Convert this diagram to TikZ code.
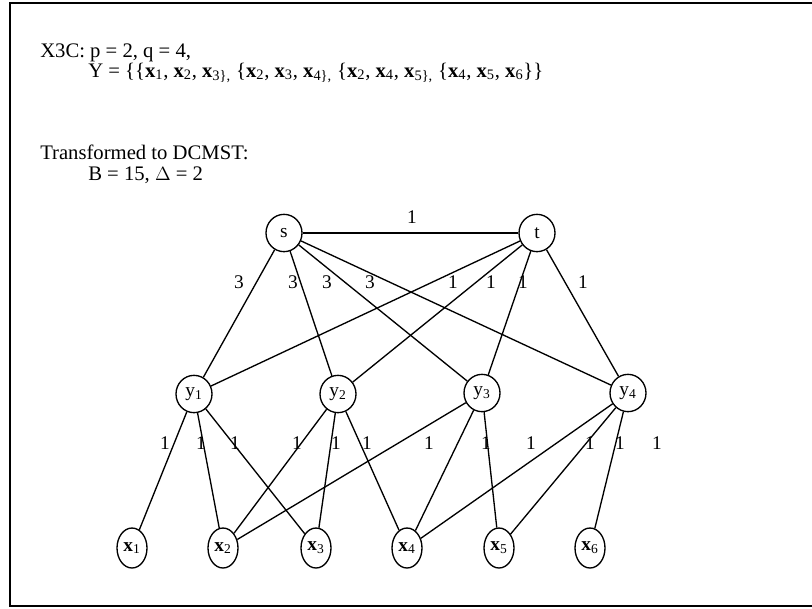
\documentclass[tikz,border=0pt]{standalone}
\usepackage{fontspec}
\setmainfont{Liberation Serif}
\usetikzlibrary{shapes.geometric}
\begin{document}
\begin{tikzpicture}[x=0.75pt,y=-0.75pt,
  font=\fontsize{14.5}{17}\selectfont,
  vtx/.style={draw, ellipse, line width=1pt, inner sep=0pt, minimum width=27pt, minimum height=28pt},
  xvtx/.style={draw, ellipse, line width=1pt, inner sep=0pt, minimum width=22.5pt, minimum height=30pt},
  lbl/.style={inner sep=0pt},
  txt/.style={anchor=base west, inner sep=0pt, font=\fontsize{15.5}{18}\selectfont},
  link/.style={line width=1pt}]
\useasboundingbox (0,0) rectangle (812,608);
\draw[line width=1.5pt] (812,3) -- (9.5,3) -- (9.5,606) -- (812,606);

\node[txt] (l1) at (40,57) {X3C: p = 2, q = 4,};
\node[txt] (l2) at (88,77) {Y = \{\{\textbf{x}\textsubscript{1}, \textbf{x}\textsubscript{2}, \textbf{x}\textsubscript{3\},} \{\textbf{x}\textsubscript{2}, \textbf{x}\textsubscript{3}, \textbf{x}\textsubscript{4\},} \{\textbf{x}\textsubscript{2}, \textbf{x}\textsubscript{4}, \textbf{x}\textsubscript{5\},} \{\textbf{x}\textsubscript{4}, \textbf{x}\textsubscript{5}, \textbf{x}\textsubscript{6}\}\}};
\node[txt] (l3) at (40,159) {Transformed to DCMST:};
\node[txt] (l4) at (88,180) {B = 15, $\Delta$ = 2};

\node[vtx] (s) at (284,233) {s};
\node[vtx] (t) at (537,233) {t};
\node[vtx] (y1) at (194,394) {y\textsubscript{1}};
\node[vtx] (y2) at (338,394) {y\textsubscript{2}};
\node[vtx] (y3) at (482,393) {y\textsubscript{3}};
\node[vtx] (y4) at (628,393) {y\textsubscript{4}};
\node[xvtx] (x1) at (132,548) {\textbf{x}\textsubscript{1}};
\node[xvtx] (x2) at (223,548) {\textbf{x}\textsubscript{2}};
\node[xvtx] (x3) at (316,548) {\textbf{x}\textsubscript{3}};
\node[xvtx] (x4) at (407,548) {\textbf{x}\textsubscript{4}};
\node[xvtx] (x5) at (499,548) {\textbf{x}\textsubscript{5}};
\node[xvtx] (x6) at (590,548) {\textbf{x}\textsubscript{6}};

\draw[link] (s) -- (t);
\foreach \a in {y1,y2,y3,y4} {
  \draw[link] (s) -- (\a);
  \draw[link] (t) -- (\a);
}
\foreach \a/\b in {y1/x1,y1/x2,y1/x3,y2/x2,y2/x3,y2/x4,y3/x2,y3/x4,y3/x5,y4/x4,y4/x5,y4/x6}
  \draw[link] (\a) -- (\b);

\node[lbl] (w0) at (412,217) {1};
\node[lbl] (w1) at (239,282) {3};
\node[lbl] (w2) at (293,282) {3};
\node[lbl] (w3) at (327,282) {3};
\node[lbl] (w4) at (370,282) {3};
\node[lbl] (w5) at (453,282) {1};
\node[lbl] (w6) at (491,282) {1};
\node[lbl] (w7) at (523,282) {1};
\node[lbl] (w8) at (583,282) {1};
\foreach \px [count=\i] in {165,201,235,297,336,367,429,486,531,590,620,657}
  \node[lbl] (v\i) at (\px,443) {1};
\end{tikzpicture}
\end{document}
